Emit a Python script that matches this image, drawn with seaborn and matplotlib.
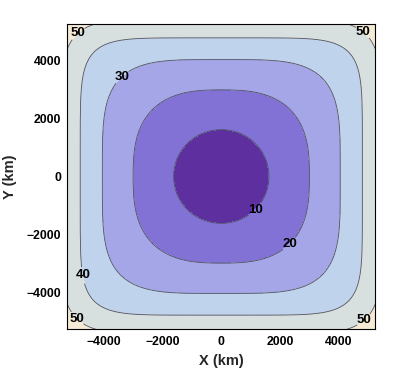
import numpy as np
import matplotlib
matplotlib.use("Agg")
import matplotlib.pyplot as plt
import seaborn as sns

# ---- data ----
levels = [10, 20, 30, 40, 50]
axis_crossing_km = [1620, 3000, 4050, 4800, 5470]   # where each level crosses the X / Y axis
diag_crossing_km = [1150, 2330, 3420, 4320, 4920]   # where each level crosses the diagonal (per-axis offset)
band_colors = ["#5d2f9f", "#8272d6", "#a5a6e8", "#bfd3ec", "#d8dfdf", "#f4ead6"]
tick_values = [-4000, -2000, 0, 2000, 4000]
label_x = [1150, 2300, -3360, -4600, -4880, 4780, -4880, 4780]
label_y = [-1140, -2320, 3430, -3400, 4950, 4950, -4880, -4880]

sns.set_style("ticks")
plt.rcParams['font.family'] = ['Liberation Sans', 'DejaVu Sans']

# ---- field whose level-curves are superellipses through the read crossings ----
a = np.array(axis_crossing_km, dtype=float)
d = np.array(diag_crossing_km, dtype=float)
p = np.log(2.0) / np.log(a / d)
L = np.array(levels, dtype=float)

grid = np.linspace(-5300, 5300, 531)
X, Y = np.meshgrid(grid, grid)
AX = np.abs(X) + 1e-9
AY = np.abs(Y) + 1e-9
Q = np.stack([np.log((AX ** pk + AY ** pk) ** (1.0 / pk) / ak) for pk, ak in zip(p, a)])

Z = np.full(X.shape, np.nan)
nseg = len(L) - 1
for j in range(nseg):
    q0, q1 = Q[j], Q[j + 1]
    val = L[j] + (L[j + 1] - L[j]) * q0 / (q0 - q1)
    Z = np.where((q0 >= 0) & (q1 < 0), val, Z)
    if j == 0:
        Z = np.where(q0 < 0, val, Z)
    if j == nseg - 1:
        Z = np.where(q1 >= 0, val, Z)

# ---- draw ----
fig = plt.figure(figsize=(4.0, 3.73), dpi=100)
ax = fig.add_axes([67 / 400, 1 - 329 / 373, 308 / 400, 305 / 373])

fill_levels = [np.nanmin(Z) - 1] + levels + [np.nanmax(Z) + 1]
ax.contourf(X, Y, Z, levels=fill_levels, colors=band_colors)
cs = ax.contour(X, Y, Z, levels=levels, colors="#505060", linewidths=0.6)
labels = ax.clabel(cs, inline=True, fmt="%d", fontsize=9.5, colors="black",
                   manual=list(zip(label_x, label_y)), inline_spacing=1)
for t in labels:
    t.set_rotation(0)
    t.set_fontweight("bold")

ax.set_xlim(-5250, 5230)
ax.set_ylim(-5280, 5280)
ax.set_xticks(tick_values)
ax.set_yticks(tick_values)
ax.set_xticklabels([("\u2212" if v < 0 else "") + str(abs(v)) for v in tick_values])
ax.set_yticklabels([("\u2212" if v < 0 else "") + str(abs(v)) for v in tick_values])
ax.xaxis.set_minor_locator(matplotlib.ticker.MultipleLocator(500))
ax.yaxis.set_minor_locator(matplotlib.ticker.MultipleLocator(500))
ax.tick_params(which="both", direction="in", top=True, right=True, width=0.6,
               labelsize=8.8, colors="black")
ax.tick_params(which="major", length=4.5)
ax.tick_params(axis="x", which="major", pad=5)
ax.tick_params(axis="y", which="major", pad=4)
ax.tick_params(which="minor", length=2.5)
for lab in ax.get_xticklabels() + ax.get_yticklabels():
    lab.set_fontweight("bold")
for sp in ax.spines.values():
    sp.set_linewidth(0.8)
    sp.set_color("black")

ax.set_xlabel("X (km)", fontsize=10.5, fontweight="bold", labelpad=4)
ax.set_ylabel("Y (km)", fontsize=10.5, fontweight="bold", labelpad=7)

fig.savefig("out.png", dpi=100)
